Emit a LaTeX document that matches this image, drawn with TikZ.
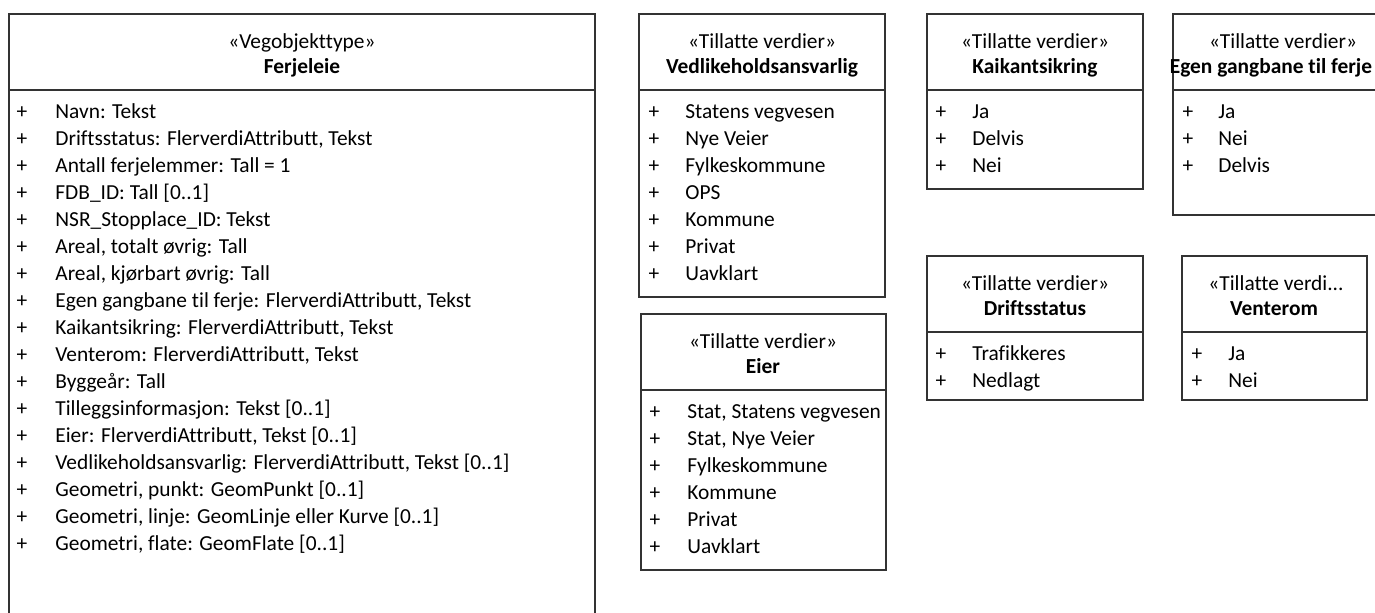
\documentclass[tikz,border=0pt]{standalone}
\usepackage{fontspec}
\setmainfont[Ligatures=CommonOff]{Carlito}
\usetikzlibrary{positioning}

\begin{document}
\begin{tikzpicture}[%
  x=0.5pt, y=-0.5pt,
  font=\fontsize{10.7}{13}\selectfont,
  box/.style={draw=black!80, line width=0.6pt},
  stereo/.style={anchor=base, inner sep=0pt},
  title/.style={anchor=base, inner sep=0pt, font=\fontsize{10.7}{13}\selectfont\bfseries},
  plus/.style={anchor=base, inner sep=0pt},
  entry/.style={anchor=base west, inner sep=0pt},
]

  \useasboundingbox (0,0) rectangle (1375,613);
  \clip (0,0) rectangle (1375,613);

  % Ferjeleie
  \draw[box] (9,14) rectangle (595,650);
  \draw[box] (9,90) -- (595,90);
  \node[stereo] (ferje-st) at (302,49) {«Vegobjekttype»};
  \node[title] (ferje-nm) at (302,74) {Ferjeleie};
  \foreach \t [count=\i] in {Navn: Tekst,
      {Driftsstatus: FlerverdiAttributt, Tekst},
      Antall ferjelemmer: Tall = 1,
      FDB\_ID: Tall [0..1],
      NSR\_Stopplace\_ID: Tekst,
      {Areal, totalt øvrig: Tall},
      {Areal, kjørbart øvrig: Tall},
      {Egen gangbane til ferje: FlerverdiAttributt, Tekst},
      {Kaikantsikring: FlerverdiAttributt, Tekst},
      {Venterom: FlerverdiAttributt, Tekst},
      Byggeår: Tall,
      Tilleggsinformasjon: Tekst [0..1],
      {Eier: FlerverdiAttributt, Tekst [0..1]},
      {Vedlikeholdsansvarlig: FlerverdiAttributt, Tekst [0..1]},
      {Geometri, punkt: GeomPunkt [0..1]},
      {Geometri, linje: GeomLinje eller Kurve [0..1]},
      {Geometri, flate: GeomFlate [0..1]}} {
    \node[plus] (ferje-p\i) at (22,{119+27*(\i-1)}) {+};
    \node[entry] (ferje-e\i) at (55,{119+27*(\i-1)}) {\t};
  }

  % Vedlikeholdsansvarlig
  \draw[box] (639,14) rectangle (885,297);
  \draw[box] (639,90) -- (885,90);
  \node[stereo] (vedl-st) at (762,49) {«Tillatte verdier»};
  \node[title] (vedl-nm) at (762,74) {Vedlikeholdsansvarlig};
  \foreach \t [count=\i] in {Statens vegvesen, Nye Veier, Fylkeskommune,
      OPS, Kommune, Privat, Uavklart} {
    \node[plus] (vedl-p\i) at (654,{119+27*(\i-1)}) {+};
    \node[entry] (vedl-e\i) at (685,{119+27*(\i-1)}) {\t};
  }

  % Kaikantsikring
  \draw[box] (927,14) rectangle (1143,189);
  \draw[box] (927,90) -- (1143,90);
  \node[stereo] (kai-st) at (1035,49) {«Tillatte verdier»};
  \node[title] (kai-nm) at (1035,74) {Kaikantsikring};
  \foreach \t [count=\i] in {Ja, Delvis, Nei} {
    \node[plus] (kai-p\i) at (941,{119+27*(\i-1)}) {+};
    \node[entry] (kai-e\i) at (972,{119+27*(\i-1)}) {\t};
  }

  % Egen gangbane til ferje
  \draw[box] (1173,14) rectangle (1395,215);
  \draw[box] (1173,90) -- (1395,90);
  \node[stereo] (gang-st) at (1283,49) {«Tillatte verdier»};
  \node[title] (gang-nm) at (1271,74) {Egen gangbane til ferje};
  \foreach \t [count=\i] in {Ja, Nei, Delvis} {
    \node[plus] (gang-p\i) at (1188,{119+27*(\i-1)}) {+};
    \node[entry] (gang-e\i) at (1218,{119+27*(\i-1)}) {\t};
  }

  % Eier
  \draw[box] (641,314) rectangle (886,570);
  \draw[box] (641,390) -- (886,390);
  \node[stereo] (eier-st) at (763,349) {«Tillatte verdier»};
  \node[title] (eier-nm) at (763,374) {Eier};
  \foreach \t [count=\i] in {{Stat, Statens vegvesen}, {Stat, Nye Veier},
      Fylkeskommune, Kommune, Privat, Uavklart} {
    \node[plus] (eier-p\i) at (655,{419+27*(\i-1)}) {+};
    \node[entry] (eier-e\i) at (687,{419+27*(\i-1)}) {\t};
  }

  % Driftsstatus
  \draw[box] (927,256) rectangle (1143,400);
  \draw[box] (927,332) -- (1143,332);
  \node[stereo] (drift-st) at (1035,291) {«Tillatte verdier»};
  \node[title] (drift-nm) at (1035,316) {Driftsstatus};
  \foreach \t [count=\i] in {Trafikkeres, Nedlagt} {
    \node[plus] (drift-p\i) at (941,{361+27*(\i-1)}) {+};
    \node[entry] (drift-e\i) at (972,{361+27*(\i-1)}) {\t};
  }

  % Venterom
  \draw[box] (1182,256) rectangle (1367,400);
  \draw[box] (1182,332) -- (1367,332);
  \node[stereo] (vent-st) at (1276,291) {«Tillatte verdi...};
  \node[title] (vent-nm) at (1274,316) {Venterom};
  \foreach \t [count=\i] in {Ja, Nei} {
    \node[plus] (vent-p\i) at (1197,{361+27*(\i-1)}) {+};
    \node[entry] (vent-e\i) at (1228,{361+27*(\i-1)}) {\t};
  }

\end{tikzpicture}
\end{document}
